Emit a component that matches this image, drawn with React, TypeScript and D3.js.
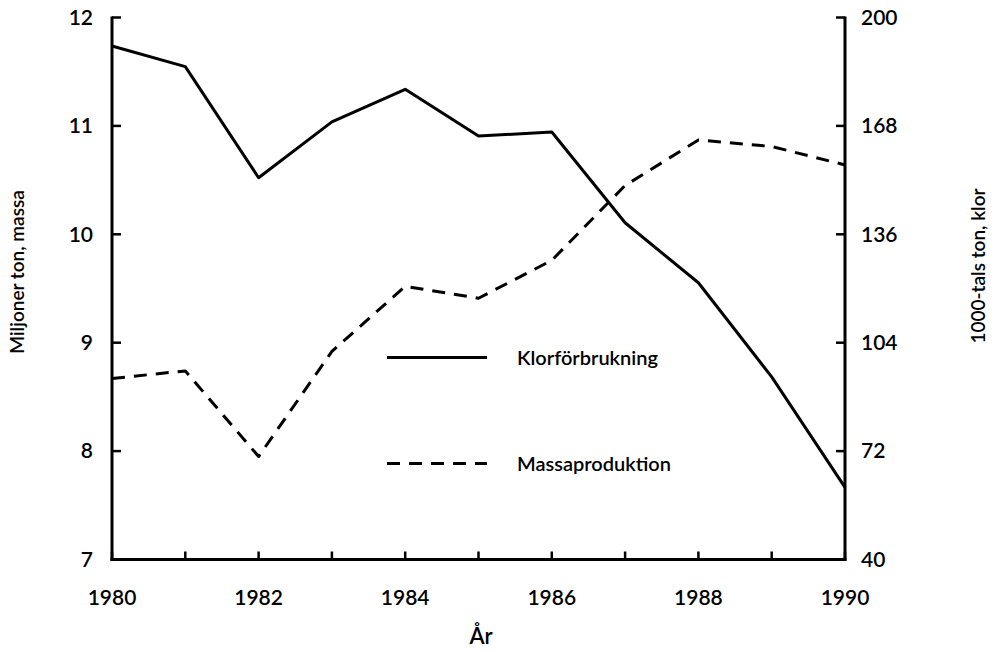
import React from "react";
import * as d3 from "d3";

const years = [1980, 1981, 1982, 1983, 1984, 1985, 1986, 1987, 1988, 1989, 1990];
const klorValues = [191.6, 185.5, 152.7, 169.2, 178.8, 165.0, 166.2, 139.4, 121.7, 93.9, 61.3];
const massaValues = [8.67, 8.74, 7.95, 8.92, 9.52, 9.41, 9.76, 10.45, 10.87, 10.81, 10.64];
const xTickLabels = [1980, 1982, 1984, 1986, 1988, 1990];
const leftTicks = [7, 8, 9, 10, 11, 12];
const rightTicks = [40, 72, 104, 136, 168, 200];
const seriesNames = ["Klorförbrukning", "Massaproduktion"];
const leftTitle = "Miljoner ton, massa";
const rightTitle = "1000-tals ton, klor";
const xTitle = "År";

const W = 999;
const H = 652;
const L = 112;
const R = 845;
const T = 17.5;
const B = 559.5;
const FONT = "Lato, 'DejaVu Sans', sans-serif";
const FW = 600;

export default function App() {
  const x = d3.scaleLinear().domain([1980, 1990]).range([L, R]);
  const yL = d3.scaleLinear().domain([7, 12]).range([B, T]);
  const yR = d3.scaleLinear().domain([40, 200]).range([B, T]);

  const klorLine = d3
    .line<number>()
    .x((_, i) => x(years[i]))
    .y((d) => yR(d))(klorValues) as string;
  const massaLine = d3
    .line<number>()
    .x((_, i) => x(years[i]))
    .y((d) => yL(d))(massaValues) as string;

  const stroke = "#000";
  const sw = 3;
  const dash = "13 9";

  return (
    <svg
      width={W}
      height={H}
      style={{ position: "absolute", left: 0, top: 0, background: "#fff" }}
      fontFamily={FONT}
      fontWeight={FW}
    >
      <rect x={0} y={0} width={W} height={H} fill="#fff" />
      {/* axes */}
      <line x1={L} x2={L} y1={T - 1} y2={B + 1.5} stroke={stroke} strokeWidth={sw} />
      <line x1={R} x2={R} y1={T - 1} y2={B + 1.5} stroke={stroke} strokeWidth={sw} />
      <line x1={L - 1.5} x2={R + 1.5} y1={B} y2={B} stroke={stroke} strokeWidth={sw} />

      {/* x ticks */}
      {years.map((yr) => (
        <line
          key={"xt" + yr}
          x1={x(yr)}
          x2={x(yr)}
          y1={B}
          y2={B - 8}
          stroke={stroke}
          strokeWidth={2.5}
        />
      ))}
      {xTickLabels.map((yr) => (
        <text
          key={"xl" + yr}
          x={x(yr)}
          y={605}
          textAnchor="middle"
          fontSize={21}
          fill="#000"
        >
          {yr}
        </text>
      ))}

      {/* left ticks */}
      {leftTicks.map((v) => (
        <g key={"lt" + v}>
          <line x1={L} x2={L + 9} y1={yL(v)} y2={yL(v)} stroke={stroke} strokeWidth={2.5} />
          <text x={93} y={yL(v)} dy="0.35em" textAnchor="end" fontSize={21} fill="#000">
            {v}
          </text>
        </g>
      ))}

      {/* right ticks */}
      {rightTicks.map((v) => (
        <g key={"rt" + v}>
          <line x1={R} x2={R - 9} y1={yR(v)} y2={yR(v)} stroke={stroke} strokeWidth={2.5} />
          <text x={861} y={yR(v)} dy="0.35em" textAnchor="start" fontSize={21} fill="#000">
            {v}
          </text>
        </g>
      ))}

      {/* axis titles */}
      <text
        transform={`translate(24,272) rotate(-90)`}
        textAnchor="middle"
        fontSize={19}
        fill="#000"
      >
        {leftTitle}
      </text>
      <text
        transform={`translate(985,266) rotate(-90)`}
        textAnchor="middle"
        fontSize={19}
        fill="#000"
      >
        {rightTitle}
      </text>
      <text x={481} y={644} textAnchor="middle" fontSize={22} fill="#000">
        {xTitle}
      </text>

      {/* data lines */}
      <path d={klorLine} fill="none" stroke={stroke} strokeWidth={sw} strokeLinejoin="round" />
      <path
        d={massaLine}
        fill="none"
        stroke={stroke}
        strokeWidth={sw}
        strokeDasharray={dash}
        strokeLinejoin="round"
      />

      {/* legend */}
      <line x1={387} x2={487} y1={357.5} y2={357.5} stroke={stroke} strokeWidth={sw} />
      <text x={517} y={365} fontSize={20} fill="#000">
        {seriesNames[0]}
      </text>
      <line
        x1={387}
        x2={487}
        y1={463.5}
        y2={463.5}
        stroke={stroke}
        strokeWidth={sw}
        strokeDasharray={dash}
      />
      <text x={517} y={471} fontSize={20} fill="#000">
        {seriesNames[1]}
      </text>
    </svg>
  );
}
